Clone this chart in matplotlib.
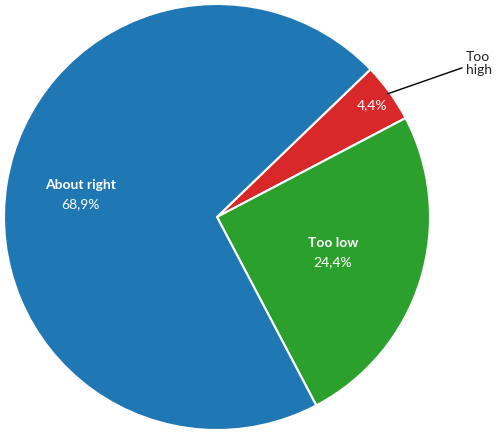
import numpy as np
import matplotlib
matplotlib.use("Agg")
import matplotlib.pyplot as plt

plt.rcParams['font.family'] = ['Lato', 'DejaVu Sans']

categories = ['Too high', 'Too low', 'About right']
values = [4.4, 24.4, 68.9]
colors = ['#d8282a', '#2ca02c', '#1f77b4']
label_radius = [0.9, 0.57, 0.65]


def fmt(v: float) -> str:
    return f"{v:.1f}".replace('.', ',') + '%'


fig = plt.figure(figsize=(5.0, 4.36), dpi=100)
ax = fig.add_axes([4 / 500, 6 / 436, 426 / 500, 426 / 436])
wedges, _ = ax.pie(values, colors=colors, startangle=43.9, counterclock=False,
                   wedgeprops=dict(edgecolor='white', linewidth=1.5))
ax.set_xlim(-1, 1)
ax.set_ylim(-1, 1)
ax.set_aspect('equal')
ax.axis('off')

for w, cat, v, r in zip(wedges, categories, values, label_radius):
    mid = np.deg2rad((w.theta1 + w.theta2) / 2)
    x, y = r * np.cos(mid), r * np.sin(mid)
    if cat == 'Too high':
        ax.text(x, y, fmt(v), ha='center', va='center', color='white', fontsize=10)
        ex, ey = 0.99 * np.cos(mid), 0.99 * np.sin(mid)
        ax.plot([ex, 1.15], [ey, 0.70], color='black', lw=1, clip_on=False)
        ax.text(1.17, 0.72, 'Too\nhigh', ha='left', va='center', fontsize=10,
                color='#222222', linespacing=1.1)
    else:
        ax.text(x, y + 0.045, cat, ha='center', va='center', color='white',
                fontsize=10, fontweight='bold')
        ax.text(x, y - 0.045, fmt(v), ha='center', va='center', color='white',
                fontsize=10)

fig.savefig('out.png', dpi=100)
